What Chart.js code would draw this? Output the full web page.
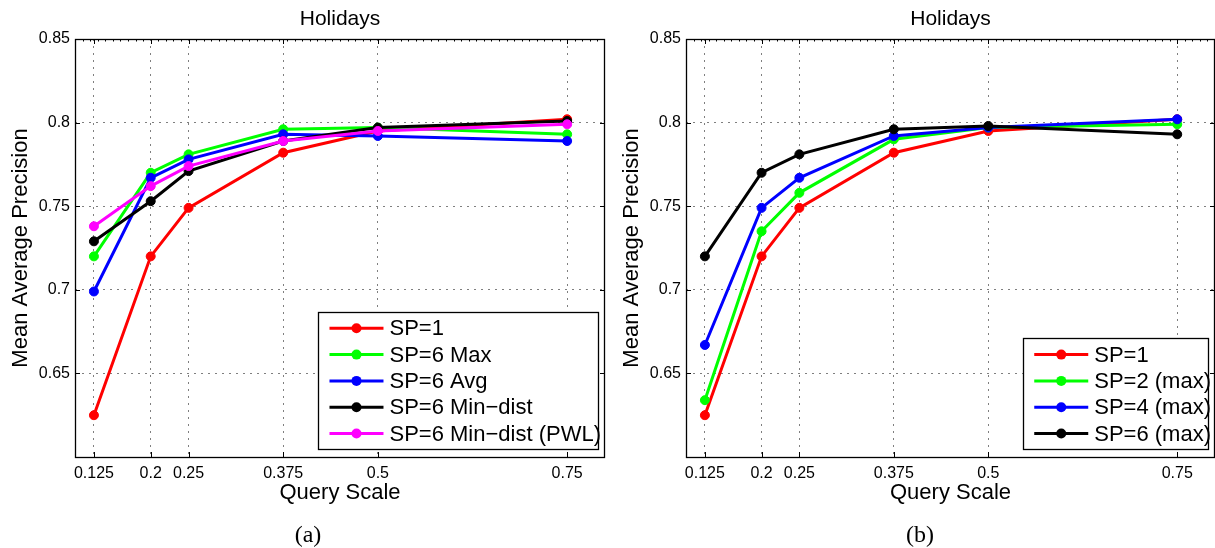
<!DOCTYPE html>
<html>
<head>
<meta charset="utf-8">
<script src="https://cdn.jsdelivr.net/npm/chart.js@4.4.1/dist/chart.umd.min.js"></script>
<style>
  html, body { margin: 0; padding: 0; background: #fff; }
  #wrap { position: relative; width: 1215px; height: 548px; overflow: hidden; }
  canvas { position: absolute; top: 0; }
  #chartA { left: 0; }
  #chartB { left: 607px; }
</style>
</head>
<body>
<div id="wrap">
  <canvas id="chartA" width="607" height="548"></canvas>
  <canvas id="chartB" width="608" height="548"></canvas>
</div>
<script>
"use strict";

// x positions (query scale) shared by both panels
const queryScales = [0.125, 0.2, 0.25, 0.375, 0.5, 0.75];
const yTickValues = [0.65, 0.7, 0.75, 0.8, 0.85];

// panel (a): pooling variants at SP=6
const labelsA = ['SP=1', 'SP=6 Max', 'SP=6 Avg', 'SP=6 Min\u2212dist', 'SP=6 Min\u2212dist (PWL)'];
const aSp1       = [0.625, 0.720, 0.749, 0.782, 0.795, 0.802];
const aSp6Max    = [0.720, 0.770, 0.781, 0.796, 0.797, 0.793];
const aSp6Avg    = [0.699, 0.767, 0.778, 0.793, 0.792, 0.789];
const aSp6Min    = [0.729, 0.753, 0.771, 0.789, 0.797, 0.801];
const aSp6MinPwl = [0.738, 0.762, 0.774, 0.789, 0.795, 0.799];

// panel (b): number of scale pyramids (max pooling)
const labelsB = ['SP=1', 'SP=2 (max)', 'SP=4 (max)', 'SP=6 (max)'];
const bSp1 = [0.625, 0.720, 0.749, 0.782, 0.795, 0.802];
const bSp2 = [0.634, 0.735, 0.758, 0.790, 0.797, 0.799];
const bSp4 = [0.667, 0.749, 0.767, 0.792, 0.797, 0.802];
const bSp6 = [0.720, 0.770, 0.781, 0.796, 0.798, 0.793];

const colorsA = ['#ff0000', '#00ff00', '#0000ff', '#000000', '#ff00ff'];
const colorsB = ['#ff0000', '#00ff00', '#0000ff', '#000000'];

const FONT = '"Liberation Sans", Arial, Helvetica, sans-serif';

function makeDatasets(labels, series, colors) {
    const n = series.length;
    return series.map((vals, i) => ({
        label: labels[i],
        data: vals.map((v, k) => ({ x: queryScales[k], y: v })),
        borderColor: colors[i],
        backgroundColor: colors[i],
        pointBackgroundColor: colors[i],
        pointBorderColor: colors[i],
        borderWidth: 3,
        pointRadius: 4.5,
        pointBorderWidth: 1,
        pointHoverRadius: 4.5,
        tension: 0,
        // later series sit on top, as in the original plot
        order: n - i
    }));
}

// axes box, inward ticks, titles and the boxed legend
const framePlugin = {
    id: 'frame',
    afterDraw(chart, args, opts) {
        const { ctx, chartArea: a, scales: { x, y } } = chart;
        ctx.save();
        ctx.strokeStyle = '#000';
        ctx.lineWidth = 1;
        ctx.setLineDash([]);

        // major ticks pointing inward on all four sides
        ctx.beginPath();
        queryScales.forEach(v => {
            const px = Math.round(x.getPixelForValue(v)) + 0.5;
            ctx.moveTo(px, a.bottom); ctx.lineTo(px, a.bottom - 5);
            ctx.moveTo(px, a.top); ctx.lineTo(px, a.top + 5);
        });
        yTickValues.forEach(v => {
            const py = Math.round(y.getPixelForValue(v)) + 0.5;
            ctx.moveTo(a.left, py); ctx.lineTo(a.left + 5, py);
            ctx.moveTo(a.right, py); ctx.lineTo(a.right - 5, py);
        });
        ctx.stroke();

        // minor ticks along the top edge
        ctx.beginPath();
        for (let k = 11; k < 80; k++) {
            const px = Math.round(x.getPixelForValue(k / 100)) + 0.5;
            ctx.moveTo(px, a.top); ctx.lineTo(px, a.top + 2.5);
        }
        ctx.stroke();

        // box
        ctx.lineWidth = 1.3;
        ctx.strokeRect(a.left + 0.5, a.top + 0.5, a.right - a.left - 1, a.bottom - a.top);

        // texts
        ctx.fillStyle = '#000';
        ctx.textAlign = 'center';
        ctx.textBaseline = 'middle';
        ctx.font = '21px ' + FONT;
        const cx = (a.left + a.right) / 2;
        ctx.fillText(opts.title, cx, 19);
        ctx.font = '22px ' + FONT;
        ctx.fillText('Query Scale', cx, 493);

        ctx.save();
        ctx.translate(a.left - 54, (a.top + a.bottom) / 2);
        ctx.rotate(-Math.PI / 2);
        ctx.fillText('Mean Average Precision', 0, 0);
        ctx.restore();

        ctx.font = '24px "Liberation Serif", "Times New Roman", serif';
        ctx.fillText(opts.caption, opts.captionX, 536);

        // legend, lower right inside the axes
        const items = chart.data.datasets;
        ctx.font = '22px ' + FONT;
        const textW = Math.max(...items.map(d => ctx.measureText(d.label).width));
        const rowH = 26.3;
        const boxW = 11 + 54 + 6 + textW - 3;
        const boxH = 16.5 + (items.length - 1) * rowH + 15.5;
        const bx = a.right - 7 - boxW;
        const by = a.bottom - 8 - boxH;
        ctx.fillStyle = '#fff';
        ctx.fillRect(bx, by, boxW, boxH);
        ctx.lineWidth = 1.3;
        ctx.strokeStyle = '#000';
        ctx.strokeRect(Math.round(bx) + 0.5, Math.round(by) + 0.5, Math.round(boxW), Math.round(boxH));
        ctx.textAlign = 'left';
        items.forEach((d, i) => {
            const ry = by + 16.5 + i * rowH;
            ctx.strokeStyle = d.borderColor;
            ctx.lineWidth = 3;
            ctx.beginPath();
            ctx.moveTo(bx + 11, ry); ctx.lineTo(bx + 65, ry);
            ctx.stroke();
            ctx.fillStyle = d.borderColor;
            ctx.beginPath();
            ctx.arc(bx + 38, ry, 5, 0, Math.PI * 2);
            ctx.fill();
            ctx.fillStyle = '#000';
            ctx.fillText(d.label, bx + 71, ry + 1);
        });
        ctx.restore();
    }
};

function buildChart(canvasId, datasets, cfg) {
    return new Chart(document.getElementById(canvasId), {
        type: 'line',
        data: { datasets },
        plugins: [framePlugin],
        options: {
            responsive: false,
            animation: false,
            devicePixelRatio: 1,
            layout: {
                autoPadding: false,
                padding: { top: 39, left: 0, right: cfg.padRight, bottom: 0 }
            },
            plugins: {
                legend: { display: false },
                tooltip: { enabled: false },
                frame: { title: 'Holidays', caption: cfg.caption, captionX: cfg.captionX }
            },
            scales: {
                x: {
                    type: 'linear',
                    min: 0.1,
                    max: 0.8,
                    afterBuildTicks: s => { s.ticks = queryScales.map(v => ({ value: v })); },
                    afterFit: s => {
                        s.height = 91;
                        s.paddingLeft = 0;
                        s.paddingRight = 0;
                    },
                    ticks: {
                        color: '#000',
                        font: { family: FONT, size: 16 },
                        padding: 7,
                        maxRotation: 0,
                        autoSkip: false,
                        callback: v => String(v)
                    },
                    grid: { color: 'rgba(0,0,0,0.5)', lineWidth: 1, drawTicks: false },
                    border: { display: false, dash: [2, 5] }
                },
                y: {
                    type: 'linear',
                    min: 0.6,
                    max: 0.85,
                    afterBuildTicks: s => { s.ticks = yTickValues.map(v => ({ value: v })); },
                    afterFit: s => { s.width = cfg.yWidth; },
                    ticks: {
                        color: '#000',
                        font: { family: FONT, size: 16 },
                        padding: 5,
                        autoSkip: false,
                        callback: v => String(v)
                    },
                    grid: { color: 'rgba(0,0,0,0.5)', lineWidth: 1, drawTicks: false },
                    border: { display: false, dash: [2, 5] }
                }
            }
        }
    });
}

buildChart('chartA',
    makeDatasets(labelsA, [aSp1, aSp6Max, aSp6Avg, aSp6Min, aSp6MinPwl], colorsA),
    { yWidth: 75, padRight: 2, caption: '(a)', captionX: 308 });

buildChart('chartB',
    makeDatasets(labelsB, [bSp1, bSp2, bSp4, bSp6], colorsB),
    { yWidth: 79, padRight: 0, caption: '(b)', captionX: 313 });
</script>
</body>
</html>
